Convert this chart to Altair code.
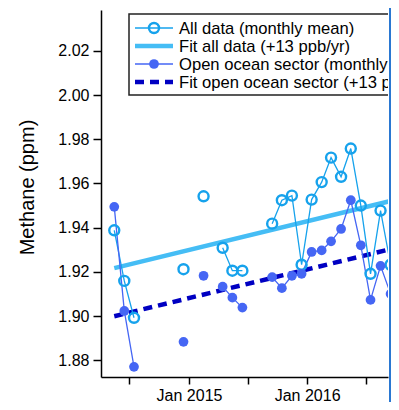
import altair as alt
import pandas as pd

# ---------------- data ----------------
months = ["2014-05", "2014-06", "2014-07", "2014-08", "2014-09", "2014-10", "2014-11",
          "2014-12", "2015-01", "2015-02", "2015-03", "2015-04", "2015-05", "2015-06",
          "2015-07", "2015-08", "2015-09", "2015-10", "2015-11", "2015-12", "2016-01",
          "2016-02", "2016-03", "2016-04", "2016-05", "2016-06", "2016-07", "2016-08",
          "2016-09"]
all_data = [1.9388, 1.9159, 1.8992, None, None, None, None,
            1.9212, None, 1.9542, None, 1.9309, 1.9205, 1.9205,
            None, None, 1.9418, 1.9524, 1.9545, 1.9232, 1.9527,
            1.9606, 1.9717, 1.9630, 1.9758, 1.9500, 1.9191, 1.9477,
            1.9232]
ocean = [1.9494, 1.9023, 1.8770, None, None, None, None,
         1.8883, None, 1.9182, None, 1.9133, 1.9083, 1.9038,
         None, None, 1.9176, 1.9126, 1.9182, 1.9191, 1.9290,
         1.9297, 1.9338, 1.9394, 1.9524, 1.9320, 1.9073, 1.9227,
         1.9100]
fit_dates = ["2014-05-15", "2016-12-15"]
fit_all = [1.9217, 1.9553]
fit_ocean = [1.8999, 1.9335]
y_ticks = [1.88, 1.90, 1.92, 1.94, 1.96, 1.98, 2.00, 2.02]
legend_labels = ["All data (monthly mean)", "Fit all data (+13 ppb/yr)",
                 "Open ocean sector (monthly mean)", "Fit open ocean sector (+13 ppb/yr)"]

# ---------------- styling ----------------
FONT = "Liberation Sans"
C_ALL = "#16A2EC"
C_FIT_ALL = "#45BDF5"
C_OCEAN = "#4566F4"
C_FIT_OCEAN = "#0000C2"
W, H = 287, 367


def long_frame(vals):
    rows, seg, prev_none = [], 0, False
    for m, v in zip(months, vals):
        if v is None:
            prev_none = True
            continue
        if prev_none:
            seg += 1
            prev_none = False
        rows.append({"date": m + "-15", "value": v, "seg": seg})
    return pd.DataFrame(rows)


df_all = long_frame(all_data)
df_ocean = long_frame(ocean)
df_fit_all = pd.DataFrame({"date": fit_dates, "value": fit_all})
df_fit_ocean = pd.DataFrame({"date": fit_dates, "value": fit_ocean})

tick_dates = [alt.DateTime(year=2014, month=7, date=1, utc=True),
              alt.DateTime(year=2015, month=1, date=1, utc=True),
              alt.DateTime(year=2015, month=7, date=1, utc=True),
              alt.DateTime(year=2016, month=1, date=1, utc=True),
              alt.DateTime(year=2016, month=7, date=1, utc=True)]

x_enc = alt.X(
    "date:T",
    scale=alt.Scale(type="utc",
                    domain=[alt.DateTime(year=2014, month=4, date=4, utc=True),
                            alt.DateTime(year=2016, month=9, date=7, utc=True)]),
    axis=alt.Axis(values=tick_dates, title=None, tickSize=7, labelPadding=3,
                  labelExpr="utcFormat(datum.value, '%m') == '01' ? utcFormat(datum.value, '%b %Y') : ''"),
)
y_enc = alt.Y(
    "value:Q",
    scale=alt.Scale(domain=[1.8724, 2.0385], nice=False, zero=False),
    axis=alt.Axis(values=y_ticks, format=".2f", title="Methane (ppm)", tickSize=8,
                  labelPadding=4, titleFontSize=20, titleFontWeight="normal",
                  titleX=-64, titleY=177),
)

fit_all_line = alt.Chart(df_fit_all).mark_line(color=C_FIT_ALL, strokeWidth=4.5, clip=True).encode(x=x_enc, y=y_enc)
fit_ocean_line = alt.Chart(df_fit_ocean).mark_line(color=C_FIT_OCEAN, strokeWidth=4.5, strokeDash=[9, 6], clip=True).encode(x=x_enc, y=y_enc)

all_line = alt.Chart(df_all).mark_line(color=C_ALL, strokeWidth=1.3, clip=True).encode(x=x_enc, y=y_enc, detail="seg:N")
all_pts = alt.Chart(df_all).mark_point(shape="circle", filled=False, color=C_ALL, size=100, strokeWidth=2.4, opacity=1, clip=True).encode(x=x_enc, y=y_enc)
ocean_line = alt.Chart(df_ocean).mark_line(color=C_OCEAN, strokeWidth=1.3, clip=True).encode(x=x_enc, y=y_enc, detail="seg:N")
ocean_pts = alt.Chart(df_ocean).mark_point(shape="circle", filled=True, color=C_OCEAN, size=95, opacity=1, clip=True).encode(x=x_enc, y=y_enc)

# ---------------- manual legend (clipped at the plot edge, like the reference) ----------------
one = pd.DataFrame({"k": [0]})
legend_box = alt.Chart(one).mark_rect(fill="white", stroke="#222222", strokeWidth=1.5, clip=True).encode(
    x=alt.value(28), x2=alt.value(430), y=alt.value(4), y2=alt.value(85))

row_y = [18, 36, 54, 72]
leg_layers = [legend_box]
styles = [
    dict(color=C_ALL, strokeWidth=1.5),
    dict(color=C_FIT_ALL, strokeWidth=4.5),
    dict(color=C_OCEAN, strokeWidth=1.5),
    dict(color=C_FIT_OCEAN, strokeWidth=4.5, strokeDash=[9, 6]),
]
for i, (lab, yy, st) in enumerate(zip(legend_labels, row_y, styles)):
    d = pd.DataFrame({"label": [lab]})
    leg_layers.append(alt.Chart(d).mark_rule(clip=True, **st).encode(
        x=alt.value(34), x2=alt.value(72), y=alt.value(yy)))
    if i == 0:
        leg_layers.append(alt.Chart(d).mark_point(shape="circle", filled=False, color=C_ALL, size=100,
                                                   strokeWidth=2.4, opacity=1, clip=True).encode(
            x=alt.value(53), y=alt.value(yy)))
    if i == 2:
        leg_layers.append(alt.Chart(d).mark_point(shape="circle", filled=True, color=C_OCEAN, size=95,
                                                   opacity=1, clip=True).encode(
            x=alt.value(53), y=alt.value(yy)))
    leg_layers.append(alt.Chart(d).mark_text(align="left", baseline="middle", font=FONT, fontSize=16.6,
                                              color="black", clip=True).encode(
        x=alt.value(78), y=alt.value(yy + 1), text="label:N"))

edge_line = alt.Chart(one).mark_rule(color="#2A78D2", strokeWidth=2).encode(
    x=alt.value(W + 2), y=alt.value(-12), y2=alt.value(H + 40))

chart = alt.layer(
    fit_all_line, fit_ocean_line, all_line, ocean_line, all_pts, ocean_pts,
    *leg_layers, edge_line,
).properties(
    width=W, height=H,
    autosize=alt.AutoSizeParams(type="none"),
    padding={"left": 93, "top": 2, "right": 3, "bottom": 25},
).configure_view(stroke=None).configure_axis(
    labelFont=FONT, titleFont=FONT, labelFontSize=16, labelColor="black", titleColor="black",
    domainColor="black", domainWidth=1.5, tickColor="black", tickWidth=1.5, grid=False,
)

chart.save("out.html", embed_options={"renderer": "svg", "actions": False})
